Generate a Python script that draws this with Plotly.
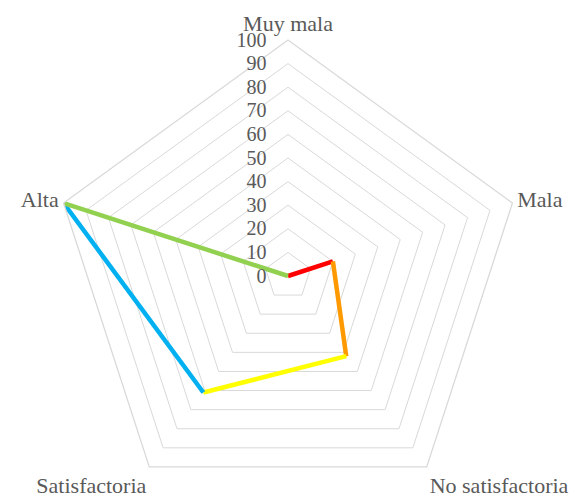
import plotly.graph_objects as go

categories = ["Muy mala", "Mala", "No satisfactoria", "Satisfactoria", "Alta"]
values = [0, 20, 42, 61, 100]
segment_colors = ["#FF0000", "#FF9900", "#FFFF00", "#00B0F0", "#92D050"]
tick_values = [0, 10, 20, 30, 40, 50, 60, 70, 80, 90, 100]

FONT = "Liberation Serif, Times New Roman, serif"
GRID = "#D9D9D9"
TXT = "#595959"

fig = go.Figure()
n = len(categories)
for i in range(n):
    j = (i + 1) % n
    fig.add_trace(go.Scatterpolar(
        r=[values[i], values[j]],
        theta=[categories[i], categories[j]],
        mode="lines",
        line=dict(color=segment_colors[i], width=4.5),
        showlegend=False,
        hoverinfo="skip",
    ))

fig.update_layout(
    width=574,
    height=540,
    margin=dict(l=52, r=50, t=40, b=28),
    paper_bgcolor="white",
    plot_bgcolor="white",
    font=dict(family=FONT, size=20, color=TXT),
    polar=dict(
        bgcolor="white",
        gridshape="linear",
        domain=dict(x=[0, 1], y=[0, 1]),
        radialaxis=dict(
            range=[0, 100],
            tickvals=tick_values,
            ticktext=[str(v) for v in tick_values],
            angle=90,
            tickangle=90,
            side="counterclockwise",
            showline=False,
            ticks="outside",
            ticklen=14,
            tickcolor="rgba(0,0,0,0)",
            showgrid=True,
            gridcolor=GRID,
            gridwidth=1.3,
            tickfont=dict(family=FONT, size=20, color=TXT),
        ),
        angularaxis=dict(
            type="category",
            categoryorder="array",
            categoryarray=categories,
            direction="clockwise",
            rotation=90,
            showgrid=False,
            showline=True,
            linecolor=GRID,
            linewidth=1.3,
            ticks="",
            tickfont=dict(family=FONT, size=22, color=TXT),
        ),
    ),
)

post = (
    "var gd=document.getElementById('{plot_id}');"
    "gd.style.height='497px';gd.style.overflow='hidden';"
    "document.documentElement.style.overflow='hidden';"
    "document.body.style.overflow='hidden';document.body.style.margin='0';"
)
fig.write_html("out.html", post_script=post)
